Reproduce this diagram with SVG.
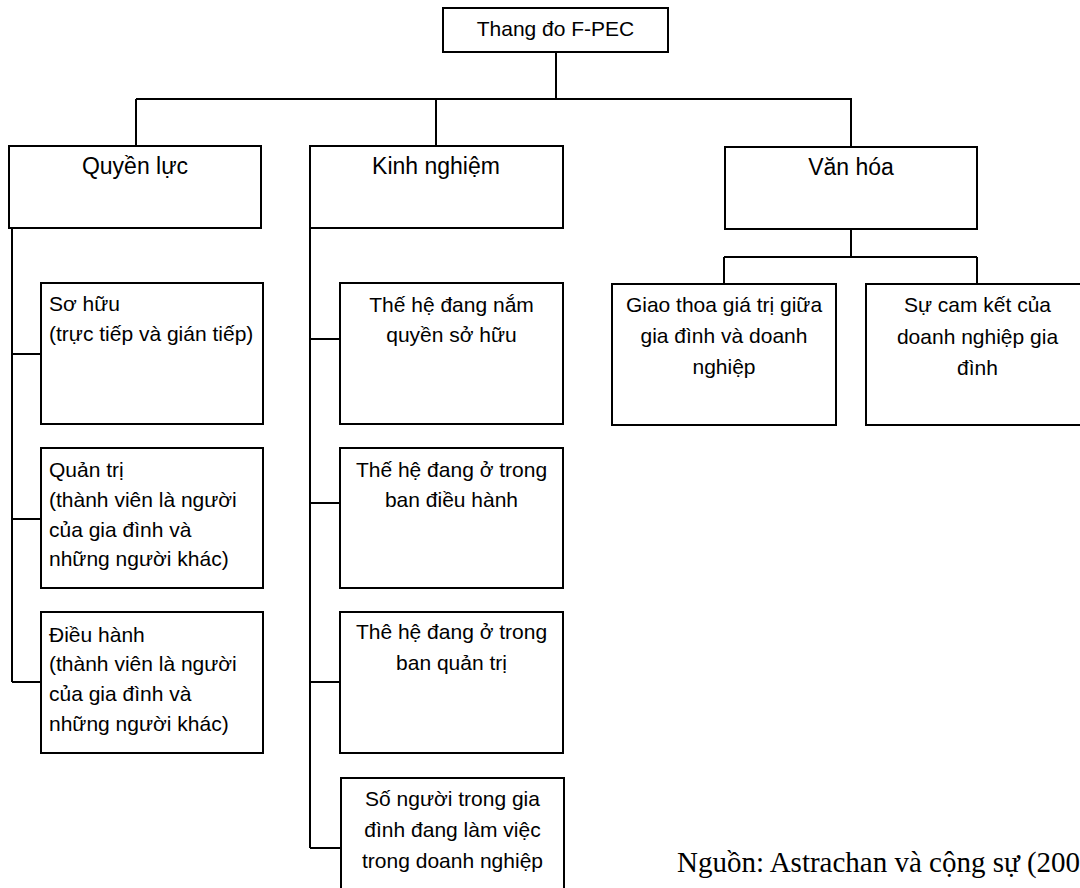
<svg xmlns="http://www.w3.org/2000/svg" width="1080" height="888" viewBox="0 0 1080 888">
<style>
  .box { fill: #ffffff; stroke: #000000; stroke-width: 2; }
  .conn { fill: none; stroke: #000000; stroke-width: 2; }
  .t { font-family: "Liberation Sans", Arial, sans-serif; font-size: 21px; fill: #000000; }
  .c { text-anchor: middle; }
  .h { font-family: "Liberation Sans", Arial, sans-serif; font-size: 23px; fill: #000000; text-anchor: middle; }
  .cap { font-family: "Liberation Serif", "Times New Roman", serif; font-size: 29px; fill: #000000; }
</style>
<rect width="1080" height="888" fill="#ffffff"/>
<g id="connectors">
  <path class="conn" d="M556,52 V99 M136,99 H852 M136,99 V146 M436,99 V146 M851,99 V147"/>
  <path class="conn" d="M12,228 V682 M12,354 H41 M12,519 H41 M12,682 H41"/>
  <path class="conn" d="M310,228 V848 M310,339 H340 M310,503 H340 M310,682 H340 M310,848 H341"/>
  <path class="conn" d="M851,229 V257 M724,257 H977 M724,257 V284 M977,257 V284"/>
</g>
<g id="root">
  <rect class="box" x="443" y="8" width="225" height="44"/>
  <text class="t c" x="555.5" y="36">Thang đo F-PEC</text>
</g>
<g id="quyen-luc">
  <rect class="box" x="9" y="146" width="252" height="82"/>
  <text class="h" x="135" y="174">Quyền lực</text>
</g>
<g id="kinh-nghiem">
  <rect class="box" x="310" y="146" width="253" height="82"/>
  <text class="h" x="436" y="174">Kinh nghiệm</text>
</g>
<g id="van-hoa">
  <rect class="box" x="725" y="147" width="252" height="82"/>
  <text class="h" x="851" y="175">Văn hóa</text>
</g>
<g id="so-huu">
  <rect class="box" x="41" y="283" width="222" height="141"/>
  <text class="t" x="49" y="311">Sơ hữu</text>
  <text class="t" x="49" y="341">(trực tiếp và gián tiếp)</text>
</g>
<g id="quan-tri">
  <rect class="box" x="41" y="448" width="222" height="140"/>
  <text class="t" x="49" y="477">Quản trị</text>
  <text class="t" x="49" y="507">(thành viên là người</text>
  <text class="t" x="49" y="537">của gia đình và</text>
  <text class="t" x="49" y="566">những người khác)</text>
</g>
<g id="dieu-hanh">
  <rect class="box" x="41" y="612" width="222" height="141"/>
  <text class="t" x="49" y="642">Điều hành</text>
  <text class="t" x="49" y="671">(thành viên là người</text>
  <text class="t" x="49" y="701">của gia đình và</text>
  <text class="t" x="49" y="731">những người khác)</text>
</g>
<g id="the-he-so-huu">
  <rect class="box" x="340" y="283" width="223" height="141"/>
  <text class="t c" x="451.5" y="312">Thế hệ đang nắm</text>
  <text class="t c" x="451.5" y="342">quyền sở hữu</text>
</g>
<g id="the-he-dieu-hanh">
  <rect class="box" x="340" y="448" width="223" height="140"/>
  <text class="t c" x="451.5" y="477">Thế hệ đang ở trong</text>
  <text class="t c" x="451.5" y="507">ban điều hành</text>
</g>
<g id="the-he-quan-tri">
  <rect class="box" x="340" y="612" width="223" height="141"/>
  <text class="t c" x="451.5" y="639">Thê hệ đang ở trong</text>
  <text class="t c" x="451.5" y="670">ban quản trị</text>
</g>
<g id="so-nguoi">
  <rect class="box" x="341" y="778" width="223" height="120"/>
  <text class="t c" x="452.5" y="806">Số người trong gia</text>
  <text class="t c" x="452.5" y="837">đình đang làm việc</text>
  <text class="t c" x="452.5" y="868">trong doanh nghiệp</text>
</g>
<g id="giao-thoa">
  <rect class="box" x="612" y="284" width="224" height="141"/>
  <text class="t c" x="724" y="312">Giao thoa giá trị giữa</text>
  <text class="t c" x="724" y="343">gia đình và doanh</text>
  <text class="t c" x="724" y="374">nghiệp</text>
</g>
<g id="cam-ket">
  <rect class="box" x="866" y="284" width="223" height="141"/>
  <text class="t c" x="977.5" y="312">Sự cam kết của</text>
  <text class="t c" x="977.5" y="344">doanh nghiệp gia</text>
  <text class="t c" x="977.5" y="375">đình</text>
</g>
<g id="caption">
  <text class="cap" x="677" y="872">Nguồn: Astrachan và cộng sự (2005)</text>
</g>
</svg>
